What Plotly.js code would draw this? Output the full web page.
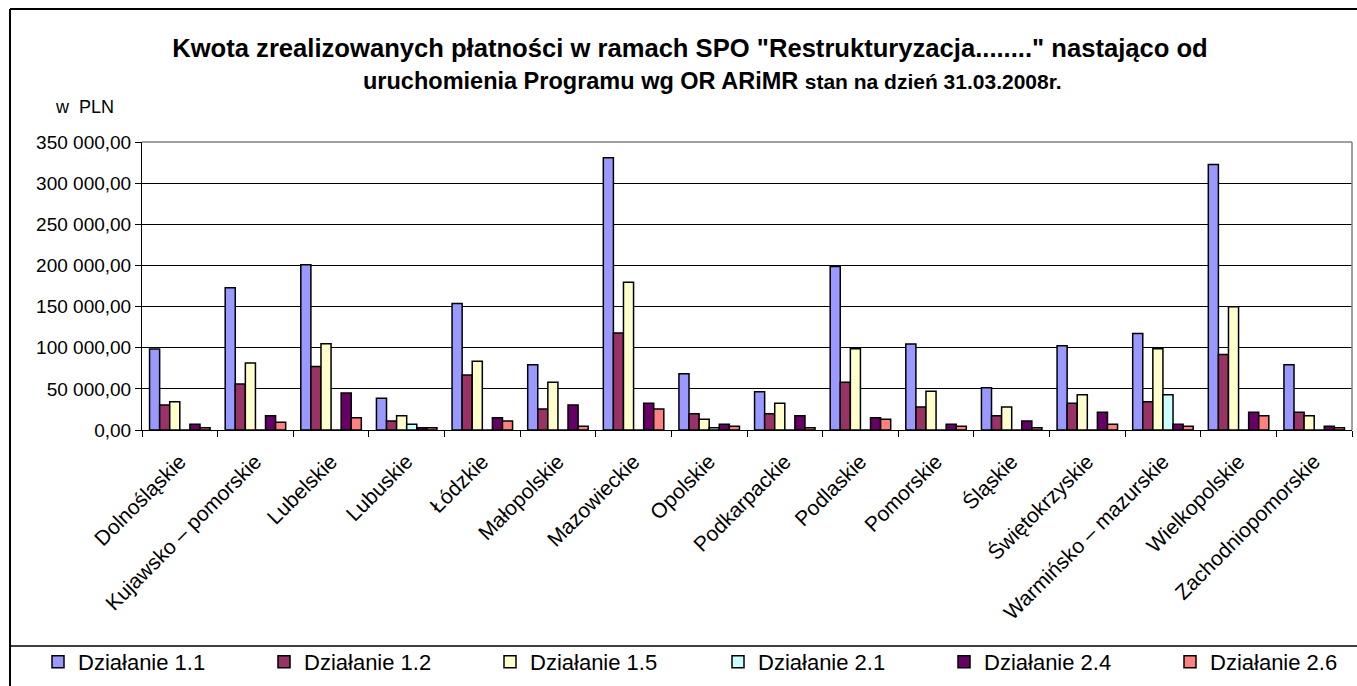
<!DOCTYPE html>
<html>
<head>
<meta charset="utf-8">
<script src="https://cdn.plot.ly/plotly-3.0.1.min.js"></script>
<style>html,body{margin:0;padding:0;background:#fff;}</style>
</head>
<body>
<div id="chart" style="width:1357px;height:686px;"></div>
<script>
const categories = ["Dolnośląskie","Kujawsko – pomorskie","Lubelskie","Lubuskie","Łódzkie","Małopolskie","Mazowieckie","Opolskie","Podkarpackie","Podlaskie","Pomorskie","Śląskie","Świętokrzyskie","Warmińsko – mazurskie","Wielkopolskie","Zachodniopomorskie"];

const dz11 = [98300,172800,200800,38500,153800,79300,331000,68400,46500,198700,104400,51400,102400,117400,322600,79300];
const dz12 = [30300,55800,77300,10900,66800,25500,117800,19800,19800,57900,27900,17400,32400,34400,91900,21500];
const dz15 = [34400,81300,104800,17400,83400,57900,179700,13000,32400,98700,47000,27900,42900,98700,149700,17400];
const dz21 = [0,0,0,6900,0,0,0,2800,0,0,0,0,0,42900,0,0];
const dz24 = [6900,17400,44900,2800,15000,30300,32400,6900,17400,15000,6900,10900,21500,6900,21500,4500];
const dz26 = [2800,9300,15000,2800,10900,4500,25500,4500,2800,13000,4500,2800,6900,4500,17400,2800];

const seriesNames = ["Działanie 1.1","Działanie 1.2","Działanie 1.5","Działanie 2.1","Działanie 2.4","Działanie 2.6"];
const seriesColors = ["#9999FF","#993366","#FFFFCC","#CCFFFF","#660066","#FF8080"];
const seriesValues = [dz11, dz12, dz15, dz21, dz24, dz26];

const yTickVals = [0,50000,100000,150000,200000,250000,300000,350000];
const yTickText = ["0,00","50 000,00","100 000,00","150 000,00","200 000,00","250 000,00","300 000,00","350 000,00"];

const titleLine1 = 'Kwota zrealizowanych płatności w ramach SPO "Restrukturyzacja........" nastająco od';
const titleLine2 = 'uruchomienia Programu wg OR ARiMR <span style="font-size:21px">stan na dzień 31.03.2008r.</span>';

const W = 1357, H = 686;
const M = {l:142, r:5, t:142, b:256};
const pw = W - M.l - M.r, ph = H - M.t - M.b;
const px2x = p => (p - M.l) / pw;
const py2y = p => 1 - (p - M.t) / ph;

const traces = seriesNames.map((n, i) => ({
  type: 'bar',
  name: n,
  x: categories,
  y: seriesValues[i],
  legend: i < 3 ? 'legend' : 'legend2',
  marker: {color: seriesColors[i], line: {color: '#000000', width: 1.5}},
  hoverinfo: 'x+y+name'
}));

const font = "Arial, 'Liberation Sans', sans-serif";
const legendFont = {family: font, size: 22, color: '#000'};

const layout = {
  width: W, height: H,
  margin: M,
  paper_bgcolor: '#ffffff',
  plot_bgcolor: '#ffffff',
  font: {family: font, color: '#000000', size: 18},
  barmode: 'group',
  bargap: 0.2,
  bargroupgap: 0,
  title: {
    text: '<b>' + titleLine1 + '</b>',
    font: {family: font, size: 25.6, color: '#000'},
    x: 690/W, xref: 'container', xanchor: 'center',
    y: 1 - 48/H, yref: 'container', yanchor: 'middle'
  },
  annotations: [
    {text: '<b>' + titleLine2 + '</b>', xref: 'paper', yref: 'paper',
     x: px2x(712), y: py2y(81), xanchor: 'center', yanchor: 'middle', showarrow: false,
     font: {family: font, size: 23.5, color: '#000'}},
    {text: 'w  PLN', xref: 'paper', yref: 'paper', x: px2x(84), y: py2y(107),
     xanchor: 'center', yanchor: 'middle', showarrow: false,
     font: {family: font, size: 18, color: '#000'}}
  ],
  xaxis: {
    type: 'category',
    tickson: 'boundaries',
    ticks: 'outside', ticklen: 6, tickcolor: '#000', tickwidth: 1,
    tickangle: -45,
    ticklabelstandoff: 10,
    showline: true, linecolor: '#000', linewidth: 1,
    showgrid: false,
    tickfont: {family: font, size: 21, color: '#000'},
    fixedrange: true
  },
  yaxis: {
    range: [0, 350000],
    tickvals: yTickVals, ticktext: yTickText,
    ticks: 'outside', ticklen: 6, tickcolor: '#000', tickwidth: 1,
    showline: true, linecolor: '#000', linewidth: 1,
    showgrid: true, gridcolor: '#000000', gridwidth: 1,
    zeroline: false,
    tickfont: {family: font, size: 19, color: '#000'},
    fixedrange: true
  },
  showlegend: true,
  legend: {
    orientation: 'h',
    xref: 'container', yref: 'container',
    x: 38/W, xanchor: 'left',
    y: 1 - 662/H, yanchor: 'middle',
    entrywidth: 181, entrywidthmode: 'pixels',
    font: legendFont,
    traceorder: 'normal',
    bgcolor: 'rgba(0,0,0,0)'
  },
  legend2: {
    orientation: 'h',
    xref: 'container', yref: 'container',
    x: 718/W, xanchor: 'left',
    y: 1 - 662/H, yanchor: 'middle',
    entrywidth: 181, entrywidthmode: 'pixels',
    font: legendFont,
    traceorder: 'normal',
    bgcolor: 'rgba(0,0,0,0)'
  },
  shapes: [
    {type: 'line', xref: 'paper', yref: 'paper', x0: 0, x1: 1, y0: 1, y1: 1, line: {color: '#808080', width: 1.5}},
    {type: 'line', xref: 'paper', yref: 'paper', x0: 1, x1: 1, y0: 0, y1: 1, line: {color: '#808080', width: 1.5}},
    {type: 'line', xref: 'paper', yref: 'paper', x0: px2x(10), x1: px2x(1360), y0: py2y(9), y1: py2y(9), line: {color: '#000', width: 2}},
    {type: 'line', xref: 'paper', yref: 'paper', x0: px2x(10), x1: px2x(10), y0: py2y(9), y1: py2y(690), line: {color: '#000', width: 2}},
    {type: 'line', xref: 'paper', yref: 'paper', x0: px2x(10), x1: px2x(1360), y0: py2y(646), y1: py2y(646), line: {color: '#000', width: 1.5}}
  ]
};

Plotly.newPlot('chart', traces, layout, {displayModeBar: false, staticPlot: true});
</script>
</body>
</html>
